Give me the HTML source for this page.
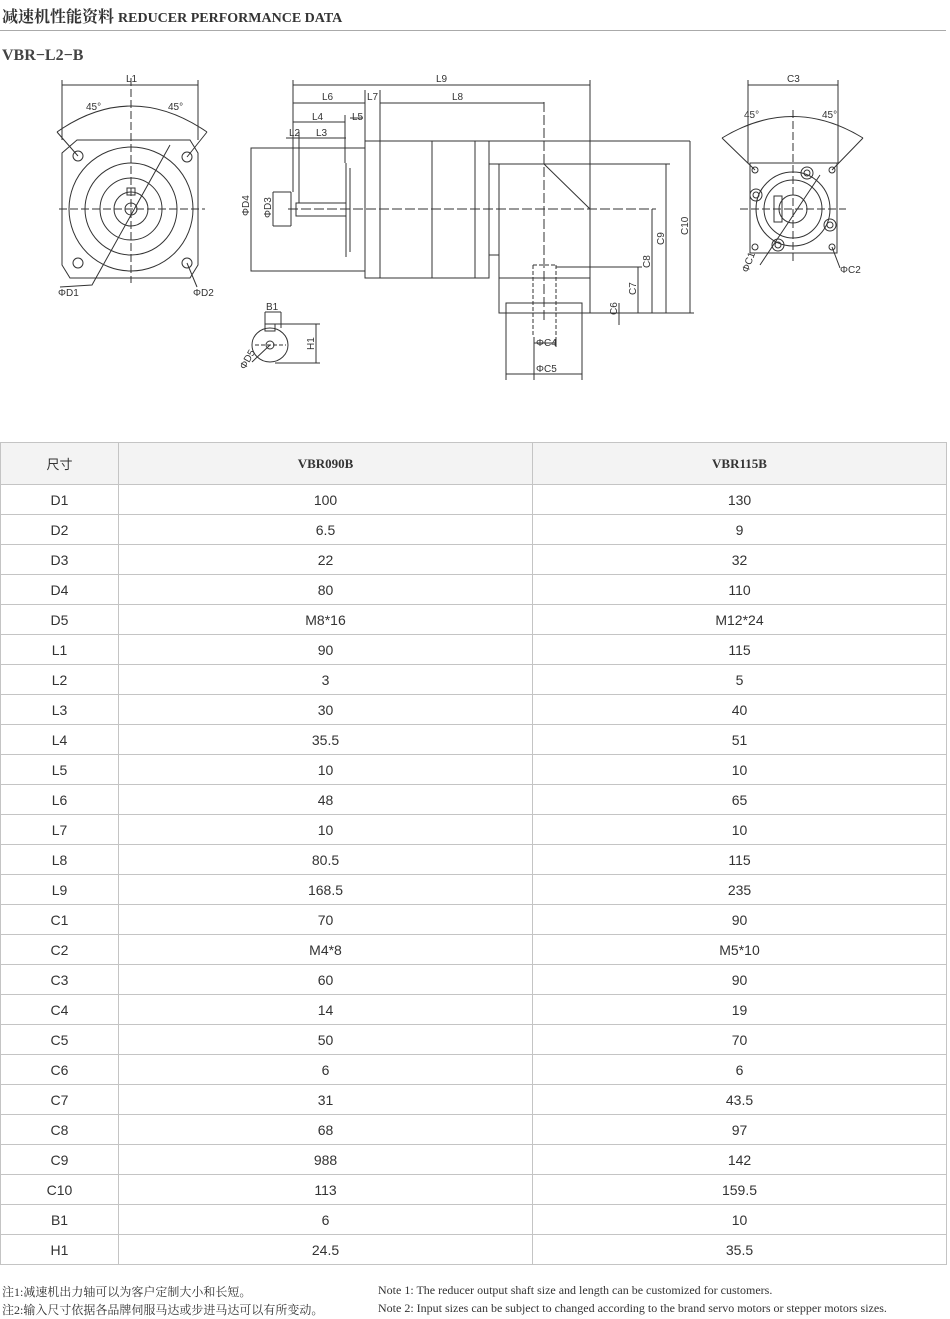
<!DOCTYPE html>
<html><head><meta charset="utf-8"><style>
body{margin:0;width:950px;height:1319px;background:#fff;position:relative;overflow:hidden;font-family:"Liberation Sans","Noto Sans CJK SC",sans-serif;color:#333}
.t{position:absolute;white-space:nowrap}
table{position:absolute;left:0;top:442px;width:946px;border-collapse:collapse;table-layout:fixed}
td{border:1px solid #c4c4c4;height:29px;text-align:center;font-size:14px;color:#333;padding:0}
tr.h td{height:41px;background:#f3f3f3;font-family:"Liberation Serif","Noto Serif CJK SC",serif;font-weight:bold;font-size:13px}
svg text{font-family:"Liberation Sans",sans-serif;font-size:10px;fill:#333}
</style></head><body>
<div class="t" style="left:2px;top:4px;font-family:'Liberation Serif','Noto Serif CJK SC',serif;font-size:16px;font-weight:bold;color:#333">减速机性能资料 <span style="font-size:14px">REDUCER PERFORMANCE DATA</span></div>
<div style="position:absolute;left:0;top:30px;width:946px;height:1px;background:#aaa"></div>
<div class="t" style="left:2px;top:47px;font-family:'Liberation Serif',serif;font-size:16px;font-weight:bold;color:#444">VBR−L2−B</div>

<svg style="position:absolute;left:0;top:0" width="950" height="440" fill="none" stroke="#333" stroke-width="1">
<!-- left view -->
<path d="M77 140 L190 140 L198 153 L198 265 L190 278 L70 278 L62 265 L62 153 Z"/>
<circle cx="131" cy="209" r="62"/><circle cx="131" cy="209" r="46"/><circle cx="131" cy="209" r="31"/><circle cx="131" cy="209" r="17"/><circle cx="131" cy="209" r="6"/>
<circle cx="78" cy="156" r="5"/><circle cx="187" cy="157" r="5"/><circle cx="78" cy="263" r="5"/><circle cx="187" cy="263" r="5"/>
<path d="M57 132 Q131 80 207 132"/><path d="M57 132 L78 156 M207 132 L187 157"/>
<path d="M62 85 L198 85 M62 80 L62 140 M198 80 L198 140"/>
<path d="M59 209 L205 209 M131 78 L131 283" stroke-dasharray="8 3"/>
<path d="M170 145 L92 285 L60 287"/><path d="M187 263 L197 287"/>
<rect x="127" y="188" width="8" height="7"/>
<!-- middle view -->
<rect x="251" y="148" width="114" height="123"/>
<rect x="365" y="141" width="15" height="137"/>
<rect x="380" y="141" width="109" height="137"/>
<path d="M432 141 L432 278 M475 141 L475 278"/>
<path d="M489 141 L690 141 M590 141 L590 313 M489 164 L590 164 M499 164 L499 313 L590 313 M489 255 L499 255 M499 278 L590 278"/>
<rect x="506" y="303" width="76" height="10"/>
<path d="M544 164 L590 209"/>
<path d="M533 265 L533 337 M556 265 L556 337 M533 265 L556 265" stroke-dasharray="4 2"/>
<path d="M291 192 L291 226"/><rect x="296" y="203" width="50" height="13"/>
<path d="M346 163 L346 257 M350 168 L350 252"/>
<path d="M288 209 L656 209 M544 102 L544 320" stroke-dasharray="10 3"/>
<path d="M293 85 L590 85 M293 80 L293 192 M590 80 L590 141"/>
<path d="M293 103 L365 103 M365 90 L365 141 M380 90 L380 141 M380 103 L544 103"/>
<path d="M293 122 L345 122 M345 115 L345 163 M350 118 L363 118"/>
<path d="M286 138 L346 138 M299 132 L299 203"/>
<path d="M251 148 L251 271 M273 192 L273 226 M273 192 L291 192 M273 226 L291 226"/>
<path d="M590 164 L670 164 M590 313 L694 313 M556 267 L642 267 M666 164 L666 313 M652 209 L652 313 M638 267 L638 313 M690 141 L690 313 M619 303 L619 325"/>
<path d="M534 337 L534 380 M556 337 L556 347 M534 343 L556 343 M506 313 L506 380 M582 313 L582 380 M506 374 L582 374"/>
<ellipse cx="270" cy="345" rx="18" ry="17"/><circle cx="270" cy="345" r="4"/>
<rect x="265" y="324" width="10" height="7"/>
<path d="M255 345 L286 345" stroke-dasharray="4 2"/>
<path d="M275 324 L320 324 M275 363 L320 363 M316 324 L316 363 M265 312 L281 312 M265 312 L265 328 M281 312 L281 328"/>
<path d="M270 345 L252 362"/>
<!-- right view -->
<rect x="750" y="163" width="87" height="90"/>
<circle cx="793" cy="209" r="37"/><circle cx="793" cy="209" r="29"/><circle cx="793" cy="209" r="14"/>
<circle cx="755" cy="170" r="3"/><circle cx="832" cy="170" r="3"/><circle cx="755" cy="247" r="3"/><circle cx="832" cy="247" r="3"/>
<circle cx="807" cy="173" r="6"/><circle cx="807" cy="173" r="3"/><circle cx="756" cy="195" r="6"/><circle cx="756" cy="195" r="3"/>
<circle cx="778" cy="245" r="6"/><circle cx="778" cy="245" r="3"/><circle cx="830" cy="225" r="6"/><circle cx="830" cy="225" r="3"/>
<rect x="774" y="196" width="8" height="26"/>
<path d="M722 138 Q793 95 863 138 M722 138 L755 170 M863 138 L832 170"/>
<path d="M748 85 L838 85 M748 80 L748 163 M838 80 L838 163"/>
<path d="M740 209 L846 209 M793 110 L793 262" stroke-dasharray="8 3"/>
<path d="M820 175 L760 265 M832 247 L840 268"/>
<g stroke="none">
<text x="126" y="82">L1</text><text x="86" y="110">45°</text><text x="168" y="110">45°</text>
<text x="58" y="296">ΦD1</text><text x="193" y="296">ΦD2</text>
<text x="436" y="82">L9</text><text x="322" y="100">L6</text><text x="367" y="100">L7</text><text x="452" y="100">L8</text>
<text x="312" y="120">L4</text><text x="352" y="120">L5</text><text x="289" y="136">L2</text><text x="316" y="136">L3</text>
<text transform="translate(249,216) rotate(-90)">ΦD4</text><text transform="translate(271,218) rotate(-90)">ΦD3</text>
<text transform="translate(636,295) rotate(-90)">C7</text><text transform="translate(650,268) rotate(-90)">C8</text>
<text transform="translate(664,245) rotate(-90)">C9</text><text transform="translate(688,235) rotate(-90)">C10</text>
<text transform="translate(617,315) rotate(-90)">C6</text>
<text x="536" y="346">ΦC4</text><text x="536" y="372">ΦC5</text>
<text x="266" y="310">B1</text><text transform="translate(314,350) rotate(-90)">H1</text>
<text transform="translate(245,370) rotate(-60)">ΦD5</text>
<text x="787" y="82">C3</text><text x="744" y="118">45°</text><text x="822" y="118">45°</text>
<text transform="translate(748,273) rotate(-70)">ΦC1</text><text x="840" y="273">ΦC2</text>
</g>
</svg>

<table>
<colgroup><col style="width:118px"><col style="width:414px"><col style="width:414px"></colgroup>
<tr class="h"><td style="font-weight:normal;font-family:'Liberation Sans','Noto Sans CJK SC',sans-serif">尺寸</td><td>VBR090B</td><td>VBR115B</td></tr>
<tr><td>D1</td><td>100</td><td>130</td></tr>
<tr><td>D2</td><td>6.5</td><td>9</td></tr>
<tr><td>D3</td><td>22</td><td>32</td></tr>
<tr><td>D4</td><td>80</td><td>110</td></tr>
<tr><td>D5</td><td>M8*16</td><td>M12*24</td></tr>
<tr><td>L1</td><td>90</td><td>115</td></tr>
<tr><td>L2</td><td>3</td><td>5</td></tr>
<tr><td>L3</td><td>30</td><td>40</td></tr>
<tr><td>L4</td><td>35.5</td><td>51</td></tr>
<tr><td>L5</td><td>10</td><td>10</td></tr>
<tr><td>L6</td><td>48</td><td>65</td></tr>
<tr><td>L7</td><td>10</td><td>10</td></tr>
<tr><td>L8</td><td>80.5</td><td>115</td></tr>
<tr><td>L9</td><td>168.5</td><td>235</td></tr>
<tr><td>C1</td><td>70</td><td>90</td></tr>
<tr><td>C2</td><td>M4*8</td><td>M5*10</td></tr>
<tr><td>C3</td><td>60</td><td>90</td></tr>
<tr><td>C4</td><td>14</td><td>19</td></tr>
<tr><td>C5</td><td>50</td><td>70</td></tr>
<tr><td>C6</td><td>6</td><td>6</td></tr>
<tr><td>C7</td><td>31</td><td>43.5</td></tr>
<tr><td>C8</td><td>68</td><td>97</td></tr>
<tr><td>C9</td><td>988</td><td>142</td></tr>
<tr><td>C10</td><td>113</td><td>159.5</td></tr>
<tr><td>B1</td><td>6</td><td>10</td></tr>
<tr><td>H1</td><td>24.5</td><td>35.5</td></tr>
</table>

<div class="t" style="left:2px;top:1283px;font-family:'Liberation Serif','Noto Serif CJK SC',serif;font-size:12px;color:#333">注1:减速机出力轴可以为客户定制大小和长短。</div>
<div class="t" style="left:2px;top:1301px;font-family:'Liberation Serif','Noto Serif CJK SC',serif;font-size:12px;color:#333">注2:输入尺寸依据各品牌伺服马达或步进马达可以有所变动。</div>
<div class="t" style="left:378px;top:1283px;font-family:'Liberation Serif',serif;font-size:12px;color:#333">Note 1: The reducer output shaft size and length can be customized for customers.</div>
<div class="t" style="left:378px;top:1301px;font-family:'Liberation Serif',serif;font-size:12px;color:#333">Note 2: Input sizes can be subject to changed according to the brand servo motors or stepper motors sizes.</div>
</body></html>
